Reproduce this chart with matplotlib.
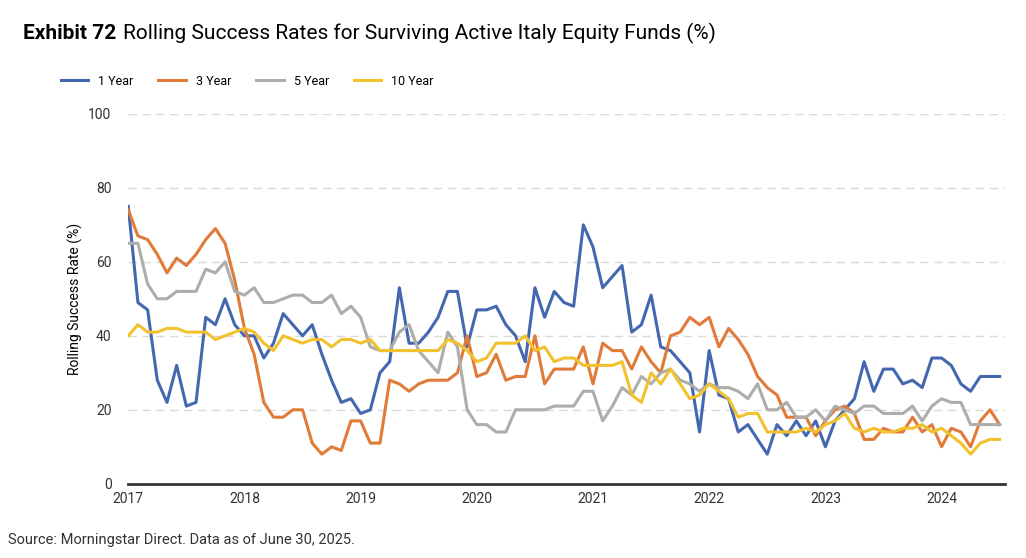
import matplotlib
matplotlib.use("Agg")
import matplotlib.pyplot as plt
import numpy as np

plt.rcParams["font.family"] = ["Roboto", "DejaVu Sans"]

# monthly observations starting Jan 2017
one_year = [75, 49, 47, 28, 22, 32, 21, 22, 45, 43, 50, 43,
            40, 40, 34, 38, 46, 43, 40, 43, 35, 28, 22, 23,
            19, 20, 30, 33, 53, 38, 38, 41, 45, 52, 52, 37,
            47, 47, 48, 43, 40, 33, 53, 45, 52, 49, 48, 70,
            64, 53, 56, 59, 41, 43, 51, 37, 36, 33, 30, 14,
            36, 24, 23, 14, 16, 12, 8, 16, 13, 17, 13, 17,
            10, 17, 20, 23, 33, 25, 31, 31, 27, 28, 26, 34,
            34, 32, 27, 25, 29, 29, 29]
three_year = [74, 67, 66, 62, 57, 61, 59, 62, 66, 69, 65, 55,
              42, 35, 22, 18, 18, 20, 20, 11, 8, 10, 9, 17,
              17, 11, 11, 28, 27, 25, 27, 28, 28, 28, 30, 40,
              29, 30, 35, 28, 29, 29, 40, 27, 31, 31, 31, 37,
              27, 38, 36, 36, 31, 37, 33, 30, 40, 41, 45, 43,
              45, 37, 42, 39, 35, 29, 26, 24, 18, 18, 18, 13,
              17, 20, 21, 19, 12, 12, 15, 14, 14, 18, 14, 16,
              10, 15, 14, 10, 17, 20, 16]
five_year = [65, 65, 54, 50, 50, 52, 52, 52, 58, 57, 60, 52,
             51, 53, 49, 49, 50, 51, 51, 49, 49, 51, 46, 48,
             45, 37, 36, 36, 41, 43, 36, 33, 30, 41, 37, 20,
             16, 16, 14, 14, 20, 20, 20, 20, 21, 21, 21, 25,
             25, 17, 21, 26, 24, 29, 27, 30, 31, 28, 27, 25,
             27, 26, 26, 25, 23, 27, 20, 20, 22, 18, 18, 20,
             17, 21, 20, 19, 21, 21, 19, 19, 19, 21, 17, 21,
             23, 22, 22, 16, 16, 16, 16]
ten_year = [40, 43, 41, 41, 42, 42, 41, 41, 41, 39, 40, 41,
            42, 41, 38, 36, 40, 39, 38, 39, 39, 37, 39, 39,
            38, 39, 36, 36, 36, 36, 36, 36, 36, 39, 38, 36,
            33, 34, 38, 38, 38, 40, 36, 37, 33, 34, 34, 32,
            32, 32, 32, 33, 24, 22, 30, 27, 31, 27, 23, 24,
            27, 25, 23, 18, 19, 19, 14, 14, 14, 14, 15, 14,
            16, 17, 19, 15, 14, 15, 14, 14, 15, 15, 16, 14,
            15, 13, 11, 8, 11, 12, 12]
labels = ["1 Year", "3 Year", "5 Year", "10 Year"]
colors = ["#4468B0", "#E07B39", "#ADADAD", "#F2C12E"]
years = list(range(2017, 2025))

fig = plt.figure(figsize=(10.26, 5.58), dpi=100)
ax = fig.add_axes([0.125, 0.133, 0.855, 0.663])
x = 2017 + np.arange(len(one_year)) / 12
for s, lab, c in zip([one_year, three_year, five_year, ten_year], labels, colors):
    ax.plot(x, s, color=c, lw=2.2, label=lab)

ax.set_ylim(0, 100)
ax.set_xlim(2017, x[-1] + 0.05)
ax.set_yticks(range(0, 101, 20))
ax.set_xticks(years)
ax.tick_params(axis="y", length=0, labelsize=10, colors="#333333", pad=12)
ax.tick_params(axis="x", length=0, labelsize=10, colors="#333333", pad=6)
for y in range(20, 101, 20):
    ax.axhline(y, color="#D9D9D9", lw=1, ls=(0, (6, 4)), zorder=0)
for sp in ["top", "right", "left"]:
    ax.spines[sp].set_visible(False)
ax.spines["bottom"].set_color("#333333")
ax.spines["bottom"].set_linewidth(2)
ax.set_ylabel("Rolling Success Rate (%)", fontsize=10)

ax.legend(loc="lower left", bbox_to_anchor=(-0.09, 1.04), ncol=4, frameon=False,
          fontsize=9, handlelength=2.2, columnspacing=2.0)

fig.text(0.022, 0.94, "Exhibit 72", fontsize=15, fontweight="bold", va="center")
fig.text(0.12, 0.94, "Rolling Success Rates for Surviving Active Italy Equity Funds (%)",
         fontsize=15, va="center")
fig.text(0.008, 0.025, "Source: Morningstar Direct. Data as of June 30, 2025.", fontsize=10.5,
         color="#333333")

fig.savefig("out.png", dpi=100)
